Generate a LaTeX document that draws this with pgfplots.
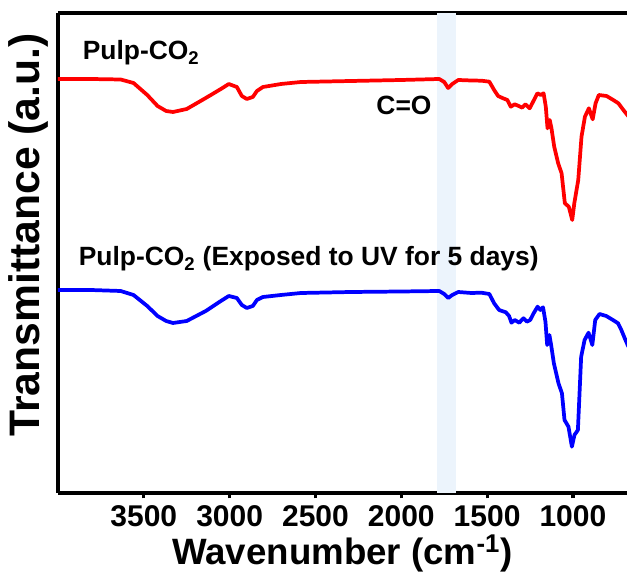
\documentclass[border=0pt]{standalone}
\usepackage{fontspec}
\setmainfont{Liberation Sans}
\usepackage{pgfplots}
\pgfplotsset{compat=1.18}
\definecolor{bandblue}{RGB}{236,244,252}
\definecolor{cred}{RGB}{255,0,0}
\definecolor{cblue}{RGB}{0,0,255}
\begin{document}
\begin{tikzpicture}
\begin{axis}[
  scale only axis,
  width=426.75pt, height=360pt,
  x dir=reverse,
  xmin=685, xmax=4000,
  ymin=-493, ymax=-13,
  axis x line*=box, axis y line*=left,
  axis line style={line width=2.6pt},
  xtick={1000,1500,2000,2500,3000,3500},
  xtick pos=lower,
  ytick=\empty,
  tick align=outside,
  major tick length=4pt,
  every tick/.style={black, line width=2.4pt},
  /pgf/number format/assume math mode=true,
  /pgf/number format/1000 sep={},
  xticklabel style={font=\bfseries\fontsize{22.5}{27}\selectfont, anchor=base, yshift=-21.5pt},
  clip=true,
]
\addplot[fill=bandblue, draw=none] coordinates {(1790,-493) (1790,-13) (1680,-13) (1680,-493)} -- cycle;

% Pulp-CO2 (red)
\addplot[cred, line width=2.8pt, line join=round] coordinates {
(4000,-79) (3810,-79) (3635,-79.5) (3560,-83) (3480,-95) (3420,-106) (3370,-111) (3330,-112)
(3250,-109) (3139,-98) (3051,-89) (3005,-84) (2958,-87) (2929,-96) (2900,-99) (2865,-97)
(2841,-91) (2806,-87) (2701,-84) (2584,-82) (2292,-81) (2000,-80) (1779,-79) (1750,-82)
(1727,-88) (1703,-84) (1668,-80) (1592,-80.5) (1533,-80.7) (1487,-81.7) (1459,-90) (1436,-96)
(1407,-98.3) (1382,-100) (1362,-106.7) (1339,-104.3) (1316,-106) (1296,-107.7) (1277,-104.3)
(1252,-108.3) (1232,-101.7) (1207,-93.3) (1187,-95) (1171,-93.3) (1158,-106.7) (1148,-128.3)
(1135,-120) (1125,-128.3) (1109,-146.7) (1086,-163.3) (1066,-173.3) (1047,-203.3) (1024,-206.7)
(1004,-220) (992,-203.3) (969,-180) (950,-136.7) (930,-116.7) (907,-108.3) (885,-119.3)
(868,-103.3) (849,-95) (804,-96) (765,-100) (735,-103.3) (706,-110) (675,-116.7)
};

% Pulp-CO2 exposed to UV (blue)
\addplot[cblue, line width=2.8pt, line join=round] coordinates {
(4000,-290) (3810,-290) (3635,-291) (3560,-295) (3480,-306) (3420,-316) (3370,-321) (3330,-323)
(3250,-321) (3139,-311) (3051,-301) (3005,-296) (2958,-298) (2929,-305) (2900,-308) (2865,-306)
(2841,-300) (2806,-297) (2701,-295) (2584,-293) (2292,-292) (2000,-291.5) (1779,-291) (1750,-294)
(1727,-298) (1703,-295) (1668,-292) (1592,-293) (1533,-292.7) (1487,-294) (1459,-303.3) (1430,-310)
(1391,-312.3) (1372,-316) (1358,-322.7) (1339,-320) (1313,-322.7) (1288,-318.3) (1268,-321.7)
(1249,-320) (1229,-313.3) (1206,-306.7) (1190,-310) (1174,-307.3) (1160,-321.7) (1150,-345)
(1137,-335) (1127,-345) (1111,-363.3) (1084,-383.3) (1064,-393.3) (1049,-420) (1026,-426.7)
(1006,-446.7) (991,-435) (971,-430) (952,-356.7) (932,-340) (909,-332.7) (887,-345)
(870,-320) (845,-314) (806,-316) (767,-320) (737,-323.3) (718,-330) (698,-338.3) (677,-346.7)
};

\node[anchor=base west, font=\bfseries\fontsize{19.8}{24}\selectfont, inner sep=0pt] at (axis cs:3857,-60) {Pulp-CO\textsubscript{2}};
\node[anchor=base west, font=\bfseries\fontsize{19.8}{24}\selectfont, inner sep=0pt] at (axis cs:3880,-266) {Pulp-CO\textsubscript{2} (Exposed to UV for 5 days)};
\node[anchor=base west, font=\bfseries\fontsize{19.8}{24}\selectfont, inner sep=0pt] at (axis cs:2146,-115) {C=O};

\coordinate (SW) at (rel axis cs:0,0);
\coordinate (NE) at (rel axis cs:1,1);
\coordinate (YL) at (rel axis cs:0,0.5375);
\coordinate (XL) at (rel axis cs:0.4996,0);
\end{axis}
\node[rotate=90, anchor=base, inner sep=0pt, font=\bfseries\fontsize{32}{38}\selectfont] at ([xshift=-13.5pt]YL) {Transmittance (a.u.)};
\node[anchor=base, inner sep=0pt, font=\bfseries\fontsize{27.5}{33}\selectfont] at ([yshift=-53.5pt]XL) {Wavenumber (cm\textsuperscript{-1})};
\pgfresetboundingbox
\path ([xshift=-43.5pt, yshift=-69pt]SW) rectangle ([yshift=9.75pt]NE);
\end{tikzpicture}
\end{document}
